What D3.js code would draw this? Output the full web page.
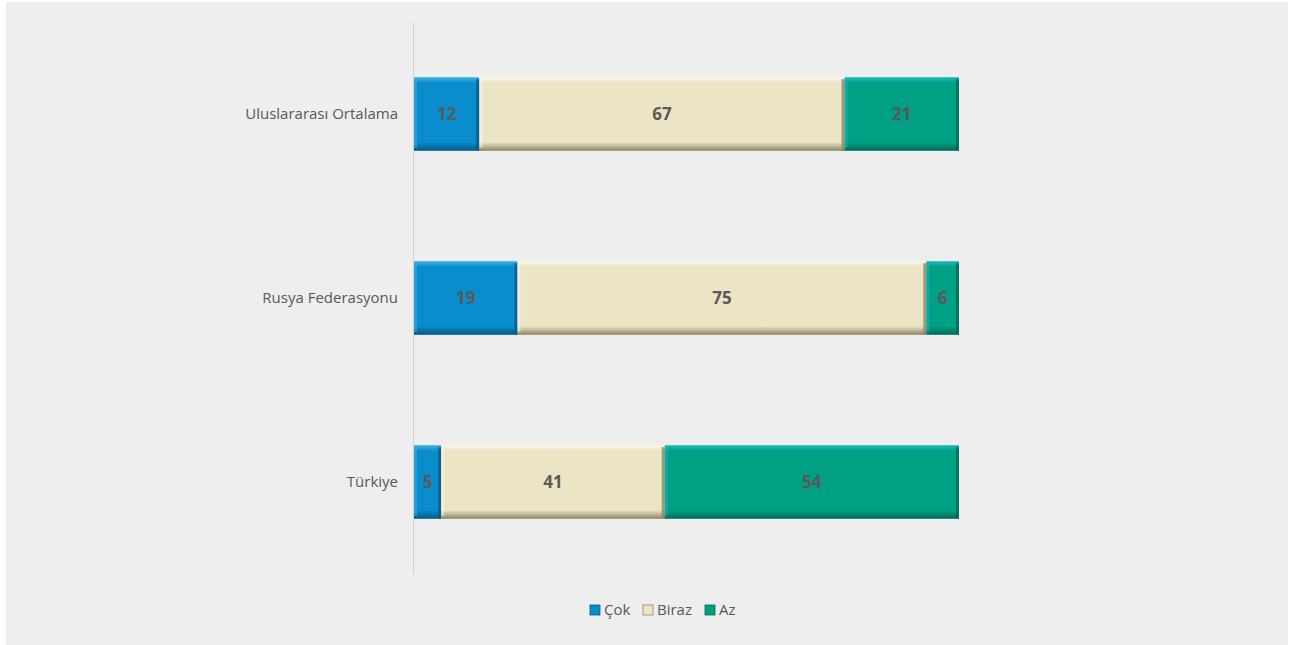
<!DOCTYPE html>
<html><head><meta charset="utf-8">
<script src="https://cdn.jsdelivr.net/npm/d3@7"></script>
<style>
html,body{margin:0;padding:0;background:#fff;}
svg{display:block;}
text{font-family:"Open Sans","Noto Sans",sans-serif;}
</style></head>
<body>
<svg id="chart" width="1290" height="645"></svg>
<script>
const categories = ["Uluslararası Ortalama", "Rusya Federasyonu", "Türkiye"];
const seriesNames = ["Çok", "Biraz", "Az"];
const cokValues = [12, 19, 5];
const birazValues = [67, 75, 41];
const azValues = [21, 6, 54];
const colors = ["#0a8dcc", "#ebe5c5", "#00a084"];
const darkColors = ["#06598a", "#8f8466", "#006b55"];
const lightColors = ["#3cb3e8", "#fbf8ea", "#1fb7c0"];

const svg = d3.select("#chart");
svg.append("rect").attr("x", 6).attr("y", 2).attr("width", 1282).attr("height", 643).attr("fill", "#eeeeee");

const margin = {left: 414, right: 331, top: 22, bottom: 71};
const W = 1290, H = 645;
const x = d3.scaleLinear().domain([0, 100]).range([margin.left, W - margin.right]);
const y = d3.scaleBand().domain(categories).range([margin.top, H - margin.bottom]).paddingInner(0.6).paddingOuter(0.3);

const seriesValues = [cokValues, birazValues, azValues];
const rows = categories.map((c, i) => {
  let acc = 0;
  return seriesValues.map((vals, s) => {
    const seg = {cat: c, s, v: vals[i], x0: acc, x1: acc + vals[i]};
    acc += vals[i];
    return seg;
  });
}).flat();

const defs = svg.append("defs");
colors.forEach((c, s) => {
  const g = defs.append("linearGradient").attr("id", "gv" + s).attr("x1", 0).attr("y1", 0).attr("x2", 0).attr("y2", 1);
  g.append("stop").attr("offset", "0%").attr("stop-color", lightColors[s]);
  g.append("stop").attr("offset", "8%").attr("stop-color", c);
  g.append("stop").attr("offset", "88%").attr("stop-color", c);
  g.append("stop").attr("offset", "100%").attr("stop-color", darkColors[s]);
});

svg.append("line").attr("x1", margin.left - 0.5).attr("x2", margin.left - 0.5)
  .attr("y1", margin.top).attr("y2", H - margin.bottom)
  .attr("stroke", "#d0d0d0").attr("stroke-width", 1);

const bh = y.bandwidth();
const segG = svg.append("g").selectAll("g").data(rows).join("g");
segG.append("rect")
  .attr("x", d => x(d.x0)).attr("y", d => y(d.cat))
  .attr("width", d => x(d.x1) - x(d.x0)).attr("height", bh)
  .attr("fill", d => "url(#gv" + d.s + ")");
segG.append("rect")
  .attr("x", d => x(d.x1) - 3).attr("y", d => y(d.cat) + 2)
  .attr("width", 3).attr("height", bh - 2)
  .attr("fill", d => darkColors[d.s]).attr("opacity", 0.8);
segG.append("rect")
  .attr("x", d => x(d.x0)).attr("y", d => y(d.cat) + 2)
  .attr("width", 3).attr("height", bh - 5)
  .attr("fill", d => lightColors[d.s]).attr("opacity", 0.5);

segG.append("text")
  .attr("x", d => (x(d.x0) + x(d.x1)) / 2).attr("y", d => y(d.cat) + bh / 2)
  .attr("dy", "0.36em").attr("text-anchor", "middle")
  .attr("font-size", 17).attr("font-weight", "bold").attr("fill", "#595959")
  .text(d => d.v);

const yAxis = d3.axisLeft(y).tickSize(0).tickPadding(16);
const ya = svg.append("g").attr("transform", `translate(${margin.left},0)`).call(yAxis);
ya.select(".domain").remove();
ya.selectAll("text").attr("font-size", 15).attr("fill", "#595959")
  .attr("font-family", "'Open Sans','Noto Sans',sans-serif");

const legendX = [590, 643, 705];
const lg = svg.append("g").selectAll("g").data(seriesNames).join("g")
  .attr("transform", (d, i) => `translate(${legendX[i]},610)`);
lg.append("rect").attr("x", 0).attr("y", -5).attr("width", 10).attr("height", 10)
  .attr("fill", (d, i) => colors[i]).attr("stroke", (d, i) => darkColors[i]).attr("stroke-width", 0.8);
lg.append("text").attr("x", 14).attr("y", 0).attr("dy", "0.36em")
  .attr("font-size", 15).attr("fill", "#595959").text(d => d);
</script>
</body></html>
